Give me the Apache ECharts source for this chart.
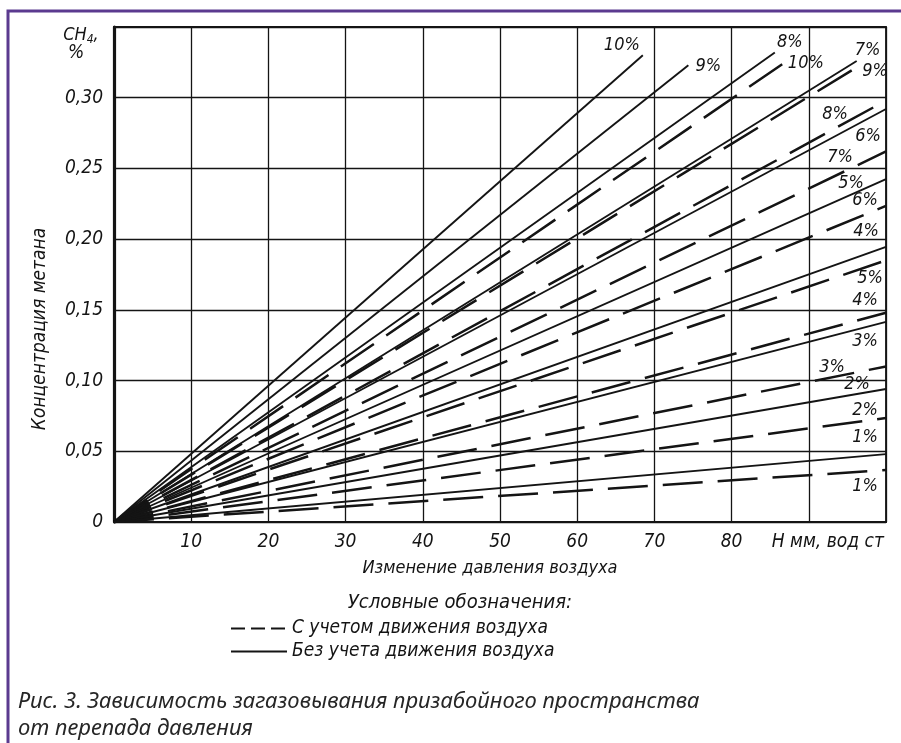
<!DOCTYPE html>
<html>
<head>
<meta charset="utf-8">
<script src="https://cdn.jsdelivr.net/npm/echarts@6/dist/echarts.min.js"></script>
<style>
  html, body { margin: 0; padding: 0; background: #fff; }
  #chart { width: 901px; height: 743px; }
</style>
</head>
<body>
<div id="chart"></div>
<script>
// Methane concentration (CH4, %) vs change of air pressure (H, mm water column).
// Every curve is a straight ray from the origin; each is stored by its end point.
const pctLabels = ['10%', '9%', '8%', '7%', '6%', '5%', '4%', '3%', '2%', '1%'];

// Without accounting for air movement (solid lines)
const solidEndH = [68.5, 74.4, 85.6, 96.2, 100, 100, 100, 100, 100, 100];
const solidEndC = [0.330, 0.323, 0.332, 0.326, 0.292, 0.2425, 0.1945, 0.1415, 0.094, 0.048];

// Accounting for air movement (dashed lines)
const dashedEndH = [86.9, 96.5, 100, 100, 100, 100, 100, 100, 100, 100];
const dashedEndC = [0.325, 0.3225, 0.298, 0.262, 0.2235, 0.185, 0.148, 0.110, 0.0735, 0.0368];

const xTicks = [10, 20, 30, 40, 50, 60, 70, 80];
const yTicks = [0, 0.05, 0.10, 0.15, 0.20, 0.25, 0.30];

const NAME_DASHED = 'С учетом движения воздуха';
const NAME_SOLID = 'Без учета движения воздуха';

// label placement next to the end of each line (pixels)
const solidLabelOffset = [[-21, -10], [20, 1], [15, -10], [11, -11], [-18, 27], [-35, 4], [-20, -16], [-21, 19], [-29, -5], [-21, -17]];
const dashedLabelOffset = [[21, 1], [16, 5], [-51, 14], [-46, 6], [-21, -6], [-16, 18], [-21, -12], [-54, 1], [-21, -8], [-21, 16]];

const HAND = "'Liberation Sans Narrow','DejaVu Sans Condensed','Liberation Sans',sans-serif";
const CAPTION = "'Noto Sans','Open Sans',sans-serif";
const INK = '#141414';

function ray(name, endH, endC, label, offset, dashed) {
  return {
    type: 'line',
    name: name,
    data: [[0, 0], [endH, endC]],
    symbol: 'none',
    silent: true,
    animation: false,
    z: dashed ? 3 : 4,
    itemStyle: { color: INK },
    lineStyle: {
      color: INK,
      width: dashed ? 2.5 : 1.9,
      type: dashed ? [40, 15] : 'solid',
      cap: 'butt'
    },
    endLabel: {
      show: true,
      formatter: label,
      distance: 0,
      align: 'center',
      verticalAlign: 'middle',
      offset: offset,
      color: INK,
      fontFamily: HAND,
      fontStyle: 'italic',
      fontSize: 18
    }
  };
}

const series = [];
for (let i = 0; i < pctLabels.length; i++) {
  series.push(ray(NAME_SOLID, solidEndH[i], solidEndC[i], pctLabels[i], solidLabelOffset[i], false));
}
for (let i = 0; i < pctLabels.length; i++) {
  series.push(ray(NAME_DASHED, dashedEndH[i], dashedEndC[i], pctLabels[i], dashedLabelOffset[i], true));
}

const chart = echarts.init(document.getElementById('chart'), null, { renderer: 'canvas' });

chart.setOption({
  animation: false,
  backgroundColor: '#ffffff',
  textStyle: { fontFamily: HAND, fontStyle: 'italic', color: INK },
  grid: {
    left: 114, top: 27, width: 772, height: 495,
    outerBoundsMode: 'none',
    containLabel: false,
    show: true, borderColor: INK, borderWidth: 1.8, backgroundColor: 'transparent'
  },
  xAxis: {
    type: 'value',
    min: 0, max: 100, interval: 10,
    axisLine: { show: true, lineStyle: { color: INK, width: 2.2 } },
    axisTick: { show: false },
    splitLine: { show: true, lineStyle: { color: INK, width: 1.3 } },
    axisLabel: {
      margin: 11,
      fontSize: 19,
      fontStyle: 'italic',
      fontFamily: HAND,
      color: INK,
      formatter: function (v) {
        if (xTicks.indexOf(v) >= 0) return String(v);
        if (v === 90) return '{h|H мм, вод ст}';
        return '';
      },
      rich: {
        h: { fontSize: 19, fontStyle: 'italic', fontFamily: HAND, color: INK, padding: [0, 0, 0, 38] }
      }
    },
    name: 'Изменение давления воздуха',
    nameLocation: 'middle',
    nameGap: 37,
    nameTextStyle: { fontSize: 18, fontStyle: 'italic', fontFamily: HAND, color: INK, padding: [0, 20, 0, 0] }
  },
  yAxis: {
    type: 'value',
    min: 0, max: 0.35, interval: 0.05,
    axisLine: { show: true, lineStyle: { color: INK, width: 3.2 } },
    axisTick: { show: false },
    splitLine: { show: true, lineStyle: { color: INK, width: 1.3 } },
    axisLabel: {
      margin: 11,
      fontSize: 19,
      fontStyle: 'italic',
      fontFamily: HAND,
      color: INK,
      formatter: function (v) {
        const hit = yTicks.find(function (t) { return Math.abs(t - v) < 1e-9; });
        if (hit === undefined) return '';
        return hit === 0 ? '0' : hit.toFixed(2).replace('.', ',');
      }
    }
  },
  legend: {
    data: [
      { name: NAME_DASHED, itemStyle: { opacity: 0 }, lineStyle: { type: [14, 6], width: 2, color: INK } },
      { name: NAME_SOLID, itemStyle: { opacity: 0 }, lineStyle: { type: 'solid', width: 2, color: INK } }
    ],
    orient: 'vertical',
    left: 225,
    top: 614,
    itemWidth: 56,
    itemHeight: 12,
    itemGap: 4,
    selectedMode: false,
    textStyle: { fontSize: 19, fontStyle: 'italic', fontFamily: HAND, color: INK }
  },
  title: [
    {
      text: 'Условные обозначения:',
      left: 455, top: 588,
      textAlign: 'center',
      textStyle: { fontSize: 20, fontStyle: 'italic', fontWeight: 'normal', fontFamily: HAND, color: INK }
    },
    {
      text: 'Рис. 3. Зависимость загазовывания призабойного пространства\nот перепада давления',
      left: 18, top: 688,
      padding: 0,
      textStyle: { fontSize: 22, fontStyle: 'italic', fontWeight: 'normal', fontFamily: CAPTION, color: '#262626', lineHeight: 27 }
    }
  ],
  graphic: [
    {
      type: 'polyline',
      silent: true,
      shape: { points: [[901, 11], [8, 11], [8, 743]] },
      style: { stroke: '#5b3a8f', lineWidth: 3, fill: null }
    },
    {
      type: 'text',
      silent: true,
      x: 40, y: 329,
      rotation: Math.PI / 2,
      style: {
        text: 'Концентрация метана',
        font: 'italic 19px ' + HAND,
        fill: INK,
        textAlign: 'center',
        textVerticalAlign: 'middle'
      }
    },
    {
      type: 'text',
      silent: true,
      x: 81, y: 35,
      style: {
        text: '{a|CH}{s|4}{a|,}',
        rich: {
          a: { font: 'italic 18px ' + HAND, fill: INK },
          s: { font: 'italic 12px ' + HAND, fill: INK, padding: [10, 0, 0, 0] }
        },
        textAlign: 'center',
        textVerticalAlign: 'middle'
      }
    },
    {
      type: 'text',
      silent: true,
      x: 76, y: 53,
      style: {
        text: '%',
        font: 'italic 19px ' + HAND,
        fill: INK,
        textAlign: 'center',
        textVerticalAlign: 'middle'
      }
    }
  ],
  series: series
});
</script>
</body>
</html>
